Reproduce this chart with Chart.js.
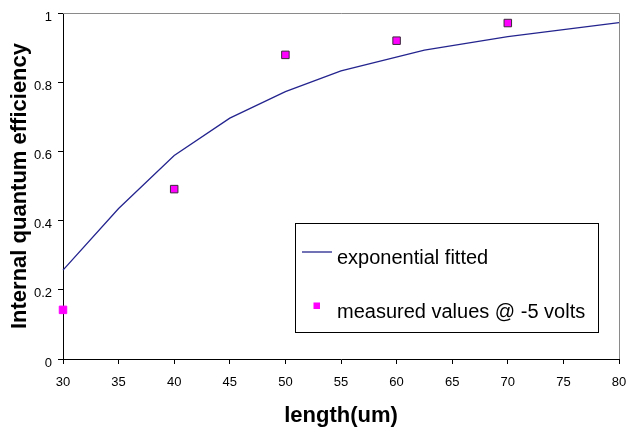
<!DOCTYPE html>
<html>
<head>
<meta charset="utf-8">
<style>
  html, body { margin: 0; padding: 0; background: #fff; }
  #wrap { width: 626px; height: 433px; }
</style>
<script src="https://cdn.jsdelivr.net/npm/chart.js@4/dist/chart.umd.min.js"></script>
</head>
<body>
<div id="wrap"><canvas id="chart" width="626" height="433"></canvas></div>
<script>
// fitted curve (length in um -> efficiency)
const fitLength = [30, 35, 40, 45, 50, 55, 62.5, 70, 75, 80];
const fitEff = [0.257, 0.435, 0.588, 0.696, 0.773, 0.833, 0.893, 0.932, 0.952, 0.972];

// measurements at -5 V
const measLength = [30, 40, 50, 60, 70];
const measEff = [0.142, 0.491, 0.879, 0.92, 0.971];

const xTicks = [30, 35, 40, 45, 50, 55, 60, 65, 70, 75, 80];
const yTicks = [0, 0.2, 0.4, 0.6, 0.8, 1];

const seriesNames = ['exponential fitted', 'measured values @ -5 volts'];

const FONT = '"Liberation Sans", Arial, sans-serif';
const LINE_COLOR = '#24248f';
const MARK_COLOR = '#ff00ff';

const toPts = (xs, ys) => xs.map((x, i) => ({ x, y: ys[i] }));

// grey top/right frame plus the boxed legend inside the plot
const frameAndLegend = {
  id: 'frameAndLegend',
  afterDraw(chart) {
    const { ctx, chartArea: a } = chart;
    ctx.save();
    ctx.strokeStyle = '#8a8a8a';
    ctx.lineWidth = 1;
    ctx.beginPath();
    ctx.moveTo(a.left, a.top + 0.5);
    ctx.lineTo(a.right + 0.5, a.top + 0.5);
    ctx.lineTo(a.right + 0.5, a.bottom);
    ctx.stroke();

    // legend box
    const bx = 295.5, by = 223.5, bw = 303, bh = 109;
    ctx.fillStyle = '#fff';
    ctx.fillRect(bx, by, bw, bh);
    ctx.strokeStyle = '#000';
    ctx.strokeRect(bx, by, bw, bh);

    ctx.strokeStyle = LINE_COLOR;
    ctx.lineWidth = 1.3;
    ctx.beginPath();
    ctx.moveTo(302, 252);
    ctx.lineTo(332, 252);
    ctx.stroke();

    ctx.fillStyle = MARK_COLOR;
    ctx.fillRect(313.5, 302.5, 6.5, 6.5);

    ctx.fillStyle = '#000';
    ctx.font = '20px ' + FONT;
    ctx.textBaseline = 'alphabetic';
    ctx.textAlign = 'left';
    ctx.fillText(seriesNames[0], 337, 264);
    ctx.fillText(seriesNames[1], 337, 318);
    ctx.restore();
  }
};

new Chart(document.getElementById('chart').getContext('2d'), {
  type: 'scatter',
  data: {
    datasets: [{
      label: seriesNames[0],
      data: toPts(fitLength, fitEff),
      showLine: true,
      borderColor: LINE_COLOR,
      borderWidth: 1.3,
      pointRadius: 0,
      tension: 0,
      fill: false,
      clip: false
    }, {
      label: seriesNames[1],
      data: toPts(measLength, measEff),
      showLine: false,
      pointStyle: 'rect',
      pointRadius: 5.3,
      pointBackgroundColor: MARK_COLOR,
      pointBorderColor: c => c.dataIndex === 0 ? MARK_COLOR : '#3a2a3a',
      pointBorderWidth: 1,
      clip: false
    }]
  },
  options: {
    responsive: false,
    animation: false,
    devicePixelRatio: 1,
    layout: { padding: { top: 13, right: 7, bottom: 0, left: 0 } },
    plugins: { legend: { display: false }, tooltip: { enabled: false } },
    scales: {
      x: {
        type: 'linear',
        min: 30, max: 80,
        afterBuildTicks: s => { s.ticks = xTicks.map(v => ({ value: v })); },
        afterFit: s => { s.height = 74; s.paddingLeft = 0; s.paddingRight = 0; },
        grid: { drawOnChartArea: false, drawTicks: true, tickLength: 5, color: '#000' },
        border: { display: true, color: '#000', width: 1 },
        ticks: { color: '#000', padding: 11, maxRotation: 0, font: { family: FONT, size: 13 } },
        title: {
          display: true, text: 'length(um)', color: '#000',
          padding: { top: 0, bottom: 4 },
          font: { family: FONT, size: 22, weight: 'bold' }
        }
      },
      y: {
        type: 'linear',
        min: 0, max: 1,
        afterBuildTicks: s => { s.ticks = yTicks.map(v => ({ value: v })); },
        afterFit: s => { s.width = 63; s.paddingTop = 0; s.paddingBottom = 0; },
        grid: { drawOnChartArea: false, drawTicks: true, tickLength: 5, color: '#000' },
        border: { display: true, color: '#000', width: 1 },
        ticks: {
          color: '#000', padding: 6, labelOffset: 4,
          font: { family: FONT, size: 13 },
          callback: v => String(Math.round(v * 10) / 10)
        },
        title: {
          display: true, text: 'Internal quantum efficiency', color: '#000',
          padding: { top: 7, bottom: 0 },
          font: { family: FONT, size: 22, weight: 'bold' }
        }
      }
    }
  },
  plugins: [frameAndLegend]
});
</script>
</body>
</html>
